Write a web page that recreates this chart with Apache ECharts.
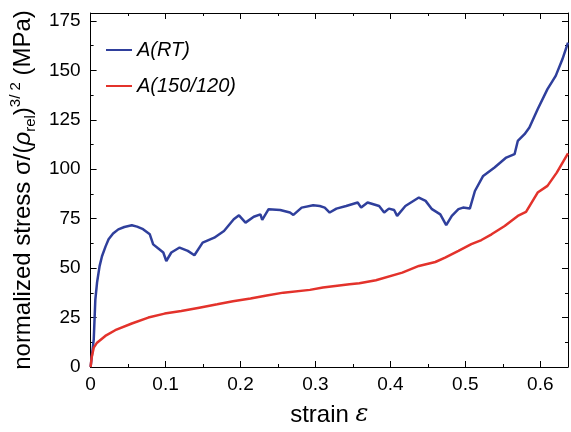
<!DOCTYPE html>
<html><head><meta charset="utf-8">
<script src="https://cdn.jsdelivr.net/npm/echarts@6/dist/echarts.min.js"></script>
<style>html,body{margin:0;padding:0;background:#fff}#c{width:571px;height:432px}</style>
</head><body><div id="c"></div>
<script>
const seriesNames = ['A(RT)', 'A(150/120)'];
const rtStrain = [0,0.0042,0.0063,0.0086,0.012,0.0152,0.02,0.024,0.03,0.037,0.045,0.055,0.062,0.070,0.079,0.0835,0.09,0.097,0.101,0.1077,0.1187,0.1297,0.1385,0.1495,0.165,0.178,0.191,0.198,0.2067,0.2177,0.2266,0.229,0.2375,0.253,0.266,0.2706,0.2816,0.297,0.3058,0.3124,0.319,0.328,0.341,0.3564,0.361,0.3696,0.385,0.3917,0.398,0.405,0.409,0.420,0.438,0.447,0.4555,0.4666,0.4745,0.482,0.4908,0.497,0.506,0.5128,0.5238,0.539,0.5546,0.5657,0.570,0.579,0.5855,0.5965,0.6096,0.6206,0.6295,0.637];
const rtStress = [0,14,34,42.7,51,56,61,64.6,67.5,69.6,70.8,71.7,71,69.7,67.1,62,60,57.9,53.6,57.9,60.4,58.7,56.5,62.9,65.4,68.8,74.7,76.7,73,76,77.2,74.4,79.8,79.4,78.1,76.9,80.6,81.8,81.4,80.6,78.1,80.1,81.4,83.2,80.6,83.2,81.4,78.1,80.1,79.4,76.4,81.4,85.7,84,79.8,77.2,71.7,76.4,79.8,80.6,80.1,89,96.6,100.9,105.9,107.6,114.3,117.7,121.1,130.3,140.5,147.2,155.6,164];
const htStrain = [0,0.0015,0.0042,0.0086,0.0196,0.0328,0.055,0.077,0.0988,0.121,0.145,0.169,0.19,0.2134,0.235,0.2573,0.2926,0.310,0.3454,0.3586,0.3807,0.4159,0.438,0.46,0.473,0.4908,0.508,0.5215,0.535,0.5525,0.570,0.581,0.5965,0.6096,0.622,0.637];
const htStress = [0,5,9.8,12.3,15.7,18.6,22,25,27,28.3,30,31.7,33.2,34.6,36.2,37.6,39,40.2,41.8,42.3,43.9,47.7,51.1,53.1,55.3,58.7,62.1,64.2,67.1,71.3,76.4,78.4,88.2,91.6,98.3,108];
const xTicks = [0, 0.1, 0.2, 0.3, 0.4, 0.5, 0.6];
const yTicks = [0, 25, 50, 75, 100, 125, 150, 175];

const zip = (a, b) => a.map((v, i) => [v, b[i]]);
const font = 'Liberation Sans, Arial, sans-serif';
const XMAX = 0.637, YMAX = 179;
const xFmt = v => { const r = Math.round(v * 10) / 10; return Math.abs(v - r) < 1e-6 && xTicks.includes(r) ? (r === 0 ? '0' : String(r)) : ''; };
const yFmt = v => yTicks.includes(v) ? String(v) : '';
const tickIn = { show: true, inside: true, length: 6, lineStyle: { color: '#000', width: 1 } };
const minorIn = { show: true, splitNumber: 2, length: 3, lineStyle: { color: '#000', width: 1 } };
const axLine = { show: true, onZero: false, lineStyle: { color: '#000', width: 1 } };

const chart = echarts.init(document.getElementById('c'), null, { renderer: 'canvas' });
chart.setOption({
  animation: false,
  backgroundColor: '#fff',
  grid: { left: 88, right: 1, top: 13, bottom: 64 },
  legend: {
    left: 100, top: 35, orient: 'vertical', itemWidth: 26, itemHeight: 14, itemGap: 16,
    itemStyle: { opacity: 0 },
    textStyle: { fontFamily: font, fontSize: 20, fontStyle: 'italic', color: '#000' },
    data: seriesNames
  },
  xAxis: [{
    type: 'value', min: 0, max: XMAX, interval: 0.1, position: 'bottom',
    axisLine: axLine, axisTick: tickIn, minorTick: minorIn, splitLine: { show: false },
    axisLabel: { formatter: xFmt, fontFamily: font, fontSize: 19, color: '#000', margin: 8 },
    name: '{a|strain }{e|ε}', nameLocation: 'middle', nameGap: 36,
    nameTextStyle: { rich: { a: { fontFamily: font, fontSize: 24, color: '#000' }, e: { fontFamily: 'DejaVu Serif, Liberation Serif, serif', fontStyle: 'italic', fontSize: 24, color: '#000' } } }
  }, {
    type: 'value', min: 0, max: XMAX, interval: 0.1, position: 'top',
    axisLine: axLine, axisTick: tickIn, minorTick: minorIn, splitLine: { show: false },
    axisLabel: { show: false }
  }],
  yAxis: [{
    type: 'value', min: 0, max: YMAX, interval: 25, position: 'left',
    axisLine: axLine, axisTick: tickIn, minorTick: minorIn, splitLine: { show: false },
    axisLabel: { formatter: yFmt, fontFamily: font, fontSize: 19, color: '#000', margin: 10 },
    name: '{n|normalized stress σ/(}{r|ρ}{s|rel}{n|)}{p|3/ 2}{n| (MPa)}', nameLocation: 'middle', nameGap: 52, nameRotate: 90,
    nameTextStyle: { rich: {
      n: { fontFamily: font, fontSize: 24, color: '#000', lineHeight: 30, verticalAlign: 'middle' },
      r: { fontFamily: font, fontStyle: 'italic', fontSize: 24, color: '#000', lineHeight: 30, verticalAlign: 'middle' },
      s: { fontFamily: font, fontSize: 15, color: '#000', lineHeight: 15, verticalAlign: 'bottom' },
      p: { fontFamily: font, fontSize: 15, color: '#000', lineHeight: 15, verticalAlign: 'top' }
    } }
  }, {
    type: 'value', min: 0, max: YMAX, interval: 25, position: 'right',
    axisLine: axLine, axisTick: tickIn, minorTick: minorIn, splitLine: { show: false },
    axisLabel: { show: false }
  }],
  series: [{
    name: seriesNames[0], type: 'line', symbol: 'none', xAxisIndex: 0, yAxisIndex: 0,
    data: zip(rtStrain, rtStress), lineStyle: { color: '#2f3f9c', width: 2.5 }, itemStyle: { color: '#2f3f9c' }
  }, {
    name: seriesNames[1], type: 'line', symbol: 'none', xAxisIndex: 0, yAxisIndex: 0,
    data: zip(htStrain, htStress), lineStyle: { color: '#e3322b', width: 2.5 }, itemStyle: { color: '#e3322b' }
  }]
});
</script></body></html>
